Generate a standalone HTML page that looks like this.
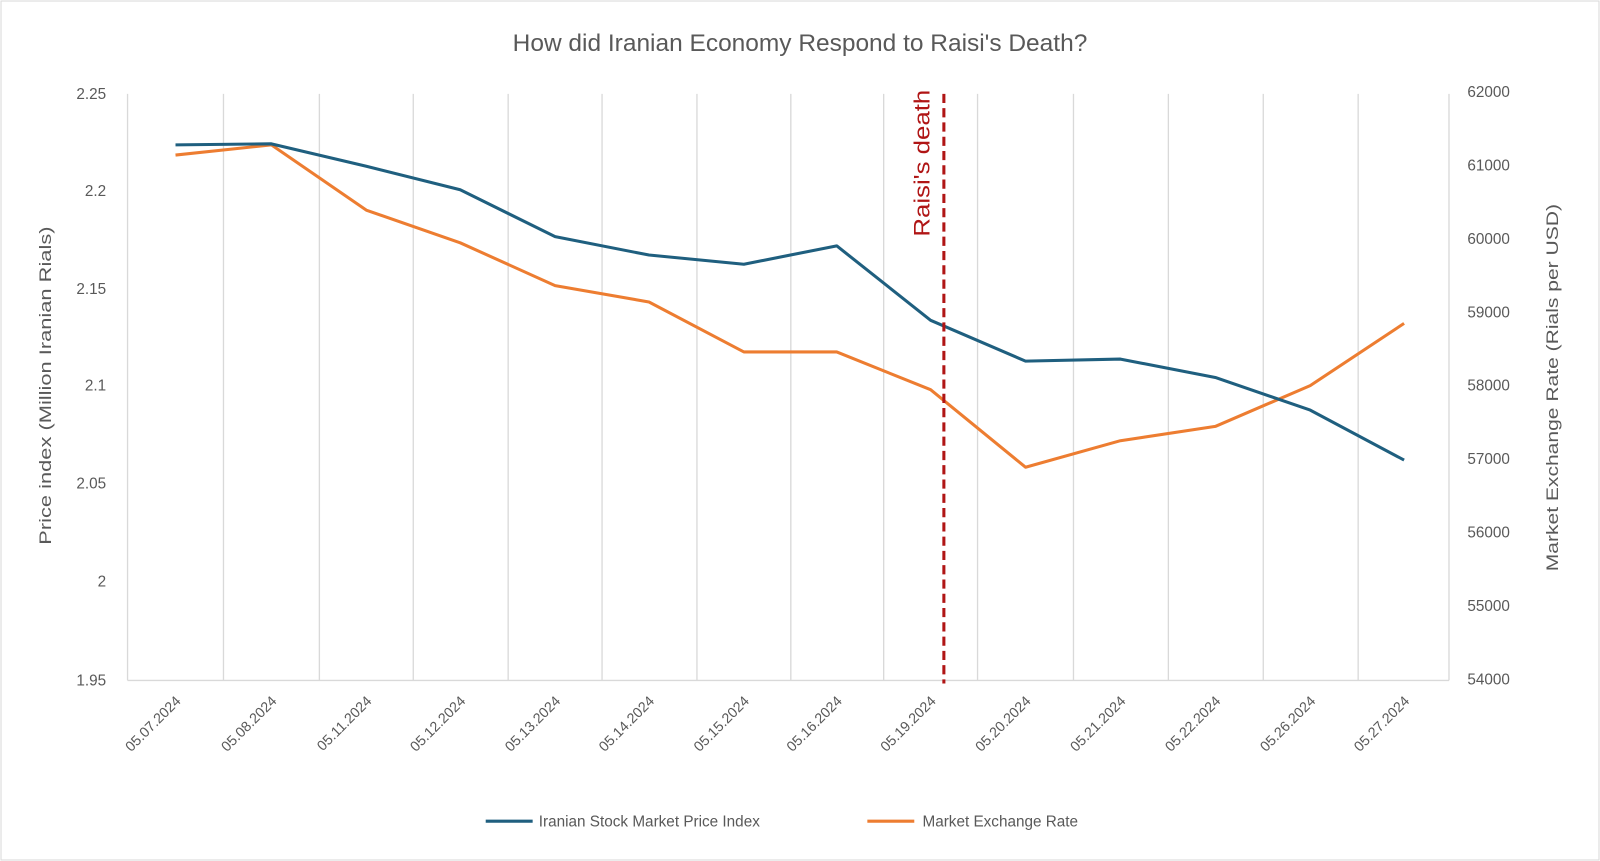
<!DOCTYPE html>
<html><head><style>html,body{margin:0;padding:0;background:#fff}svg{display:block}text{font-family:"Liberation Sans",sans-serif;fill:#595959}</style></head>
<body>
<svg width="1600" height="861" viewBox="0 0 1568 844" preserveAspectRatio="none">
<rect x="1" y="1" width="1566" height="842" fill="#fff" stroke="#d9d9d9"/>
<text x="784" y="50" font-size="24" text-anchor="middle">How did Iranian Economy Respond to Raisi's Death?</text>
<g stroke="#d9d9d9" stroke-width="1.3">
<line x1="125" y1="92" x2="125" y2="667"/><line x1="219" y1="92" x2="219" y2="667"/><line x1="313" y1="92" x2="313" y2="667"/><line x1="405" y1="92" x2="405" y2="667"/><line x1="498" y1="92" x2="498" y2="667"/><line x1="590" y1="92" x2="590" y2="667"/><line x1="683" y1="92" x2="683" y2="667"/><line x1="775" y1="92" x2="775" y2="667"/><line x1="866" y1="92" x2="866" y2="667"/><line x1="958" y1="92" x2="958" y2="667"/><line x1="1052" y1="92" x2="1052" y2="667"/><line x1="1145" y1="92" x2="1145" y2="667"/><line x1="1238" y1="92" x2="1238" y2="667"/><line x1="1331" y1="92" x2="1331" y2="667"/><line x1="1420" y1="92" x2="1420" y2="667"/>
<line x1="125" y1="667" x2="1420" y2="667"/>
</g>
<g font-size="15" text-anchor="end">
<text x="104" y="97">2.25</text><text x="104" y="192">2.2</text><text x="104" y="288">2.15</text><text x="104" y="383">2.1</text><text x="104" y="479">2.05</text><text x="104" y="575">2</text><text x="104" y="672">1.95</text>
</g>
<g font-size="15" text-anchor="start">
<text x="1438" y="95">62000</text><text x="1438" y="167">61000</text><text x="1438" y="239">60000</text><text x="1438" y="311">59000</text><text x="1438" y="383">58000</text><text x="1438" y="455">57000</text><text x="1438" y="527">56000</text><text x="1438" y="599">55000</text><text x="1438" y="671">54000</text>
</g>
<text transform="translate(50,378) rotate(-90)" font-size="16" text-anchor="middle" textLength="312" lengthAdjust="spacingAndGlyphs">Price index (Million Iranian Rials)</text>
<text transform="translate(1527,380) rotate(-90)" font-size="16" text-anchor="middle" textLength="360" lengthAdjust="spacingAndGlyphs">Market Exchange Rate (Rials per USD)</text>
<g font-size="14" text-anchor="end">
<text transform="translate(178,688) rotate(-45)">05.07.2024</text><text transform="translate(272,688) rotate(-45)">05.08.2024</text><text transform="translate(365,688) rotate(-45)">05.11.2024</text><text transform="translate(457,688) rotate(-45)">05.12.2024</text><text transform="translate(550,688) rotate(-45)">05.13.2024</text><text transform="translate(642,688) rotate(-45)">05.14.2024</text><text transform="translate(735,688) rotate(-45)">05.15.2024</text><text transform="translate(826,688) rotate(-45)">05.16.2024</text><text transform="translate(918,688) rotate(-45)">05.19.2024</text><text transform="translate(1011,688) rotate(-45)">05.20.2024</text><text transform="translate(1104,688) rotate(-45)">05.21.2024</text><text transform="translate(1197,688) rotate(-45)">05.22.2024</text><text transform="translate(1290,688) rotate(-45)">05.26.2024</text><text transform="translate(1382,688) rotate(-45)">05.27.2024</text>
</g>
<polyline fill="none" stroke="#ed7d31" stroke-width="3" stroke-linejoin="round" points="172,152 266,142 359,206 451,238 544,280 636,296 729,345 820,345 912,382 1005,458 1098,432 1191,418 1284,378 1376,317"/>
<polyline fill="none" stroke="#1f5f7f" stroke-width="3" stroke-linejoin="round" points="172,142 266,141 359,163 451,186 544,232 636,250 729,259 820,241 912,314 1005,354 1098,352 1191,370 1284,402 1376,451"/>
<line x1="925" y1="92" x2="925" y2="670" stroke="#b01515" stroke-width="3" stroke-dasharray="9,5"/>
<text transform="translate(911,160) rotate(-90)" font-size="22" text-anchor="middle" textLength="144" lengthAdjust="spacingAndGlyphs" style="fill:#b01515">Raisi's death</text>
<line x1="476" y1="805" x2="522" y2="805" stroke="#1f5f7f" stroke-width="3"/>
<text x="528" y="810" font-size="15">Iranian Stock Market Price Index</text>
<line x1="850" y1="805" x2="896" y2="805" stroke="#ed7d31" stroke-width="3"/>
<text x="904" y="810" font-size="15">Market Exchange Rate</text>
</svg>
</body></html>
